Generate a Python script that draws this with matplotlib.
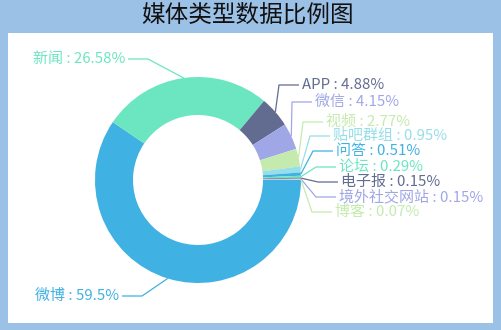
import matplotlib.pyplot as plt
from matplotlib.patches import Rectangle
import numpy as np

plt.rcParams['font.family'] = ['Noto Sans CJK SC', 'DejaVu Sans']

# data
title = '媒体类型数据比例图'
names = ['微博', '新闻', 'APP', '微信', '视频', '贴吧群组', '问答', '论坛',
         '电子报', '境外社交网站', '博客']
shares = [59.5, 26.58, 4.88, 4.15, 2.77, 0.95, 0.51, 0.29, 0.15, 0.15, 0.07]

# layout (pixels, y down)
palette = ['#3fb1e3', '#6be6c1', '#626c91', '#a0a7e6', '#c4ebad', '#96dee8']
label_y = [296, 59, 85, 102, 122, 136, 151, 167, 182, 197, 212]
knee_x = [142, 148, 279, 292, 303, 310, 313, 316, 318, 316, 312]
cx, cy, R, r_in = 198, 180, 103, 65

fig = plt.figure(figsize=(5.01, 3.30), dpi=100)
fig.patch.set_facecolor('#9cc1e6')
ax = fig.add_axes([0, 0, 1, 1])

colors = [palette[i % len(palette)] for i in range(len(shares))]
# y axis is inverted below, so counterclock=True reads clockwise on screen
wedges, _ = ax.pie(shares, colors=colors, startangle=0, counterclock=True,
                   center=(cx, cy), radius=R,
                   wedgeprops=dict(width=R - r_in, linewidth=0))

ax.set_xlim(0, 501)
ax.set_ylim(330, 0)
ax.set_axis_off()
ax.add_patch(Rectangle((8, 33), 485, 290, facecolor='white', edgecolor='none', zorder=0))

for w, name, val, ly, kx, col in zip(wedges, names, shares, label_y, knee_x, colors):
    mid = np.deg2rad((w.theta1 + w.theta2) / 2)
    x0, y0 = cx + R * np.cos(mid), cy + R * np.sin(mid)
    side = 1 if np.cos(mid) >= 0 else -1
    x2 = kx + side * 20
    ax.plot([x0, kx, x2], [y0, ly, ly], color=col, lw=0.9, solid_capstyle='butt')
    ax.text(x2 + side * 3, ly, f'{name} : {val:g}%', color=col, fontsize=10.8,
            ha='left' if side > 0 else 'right', va='center')

fig.text(248 / 501, 1 - 15 / 330, title, ha='center', va='center',
         fontsize=17, color='#111111')

fig.savefig('out.png', dpi=100, facecolor=fig.get_facecolor())
